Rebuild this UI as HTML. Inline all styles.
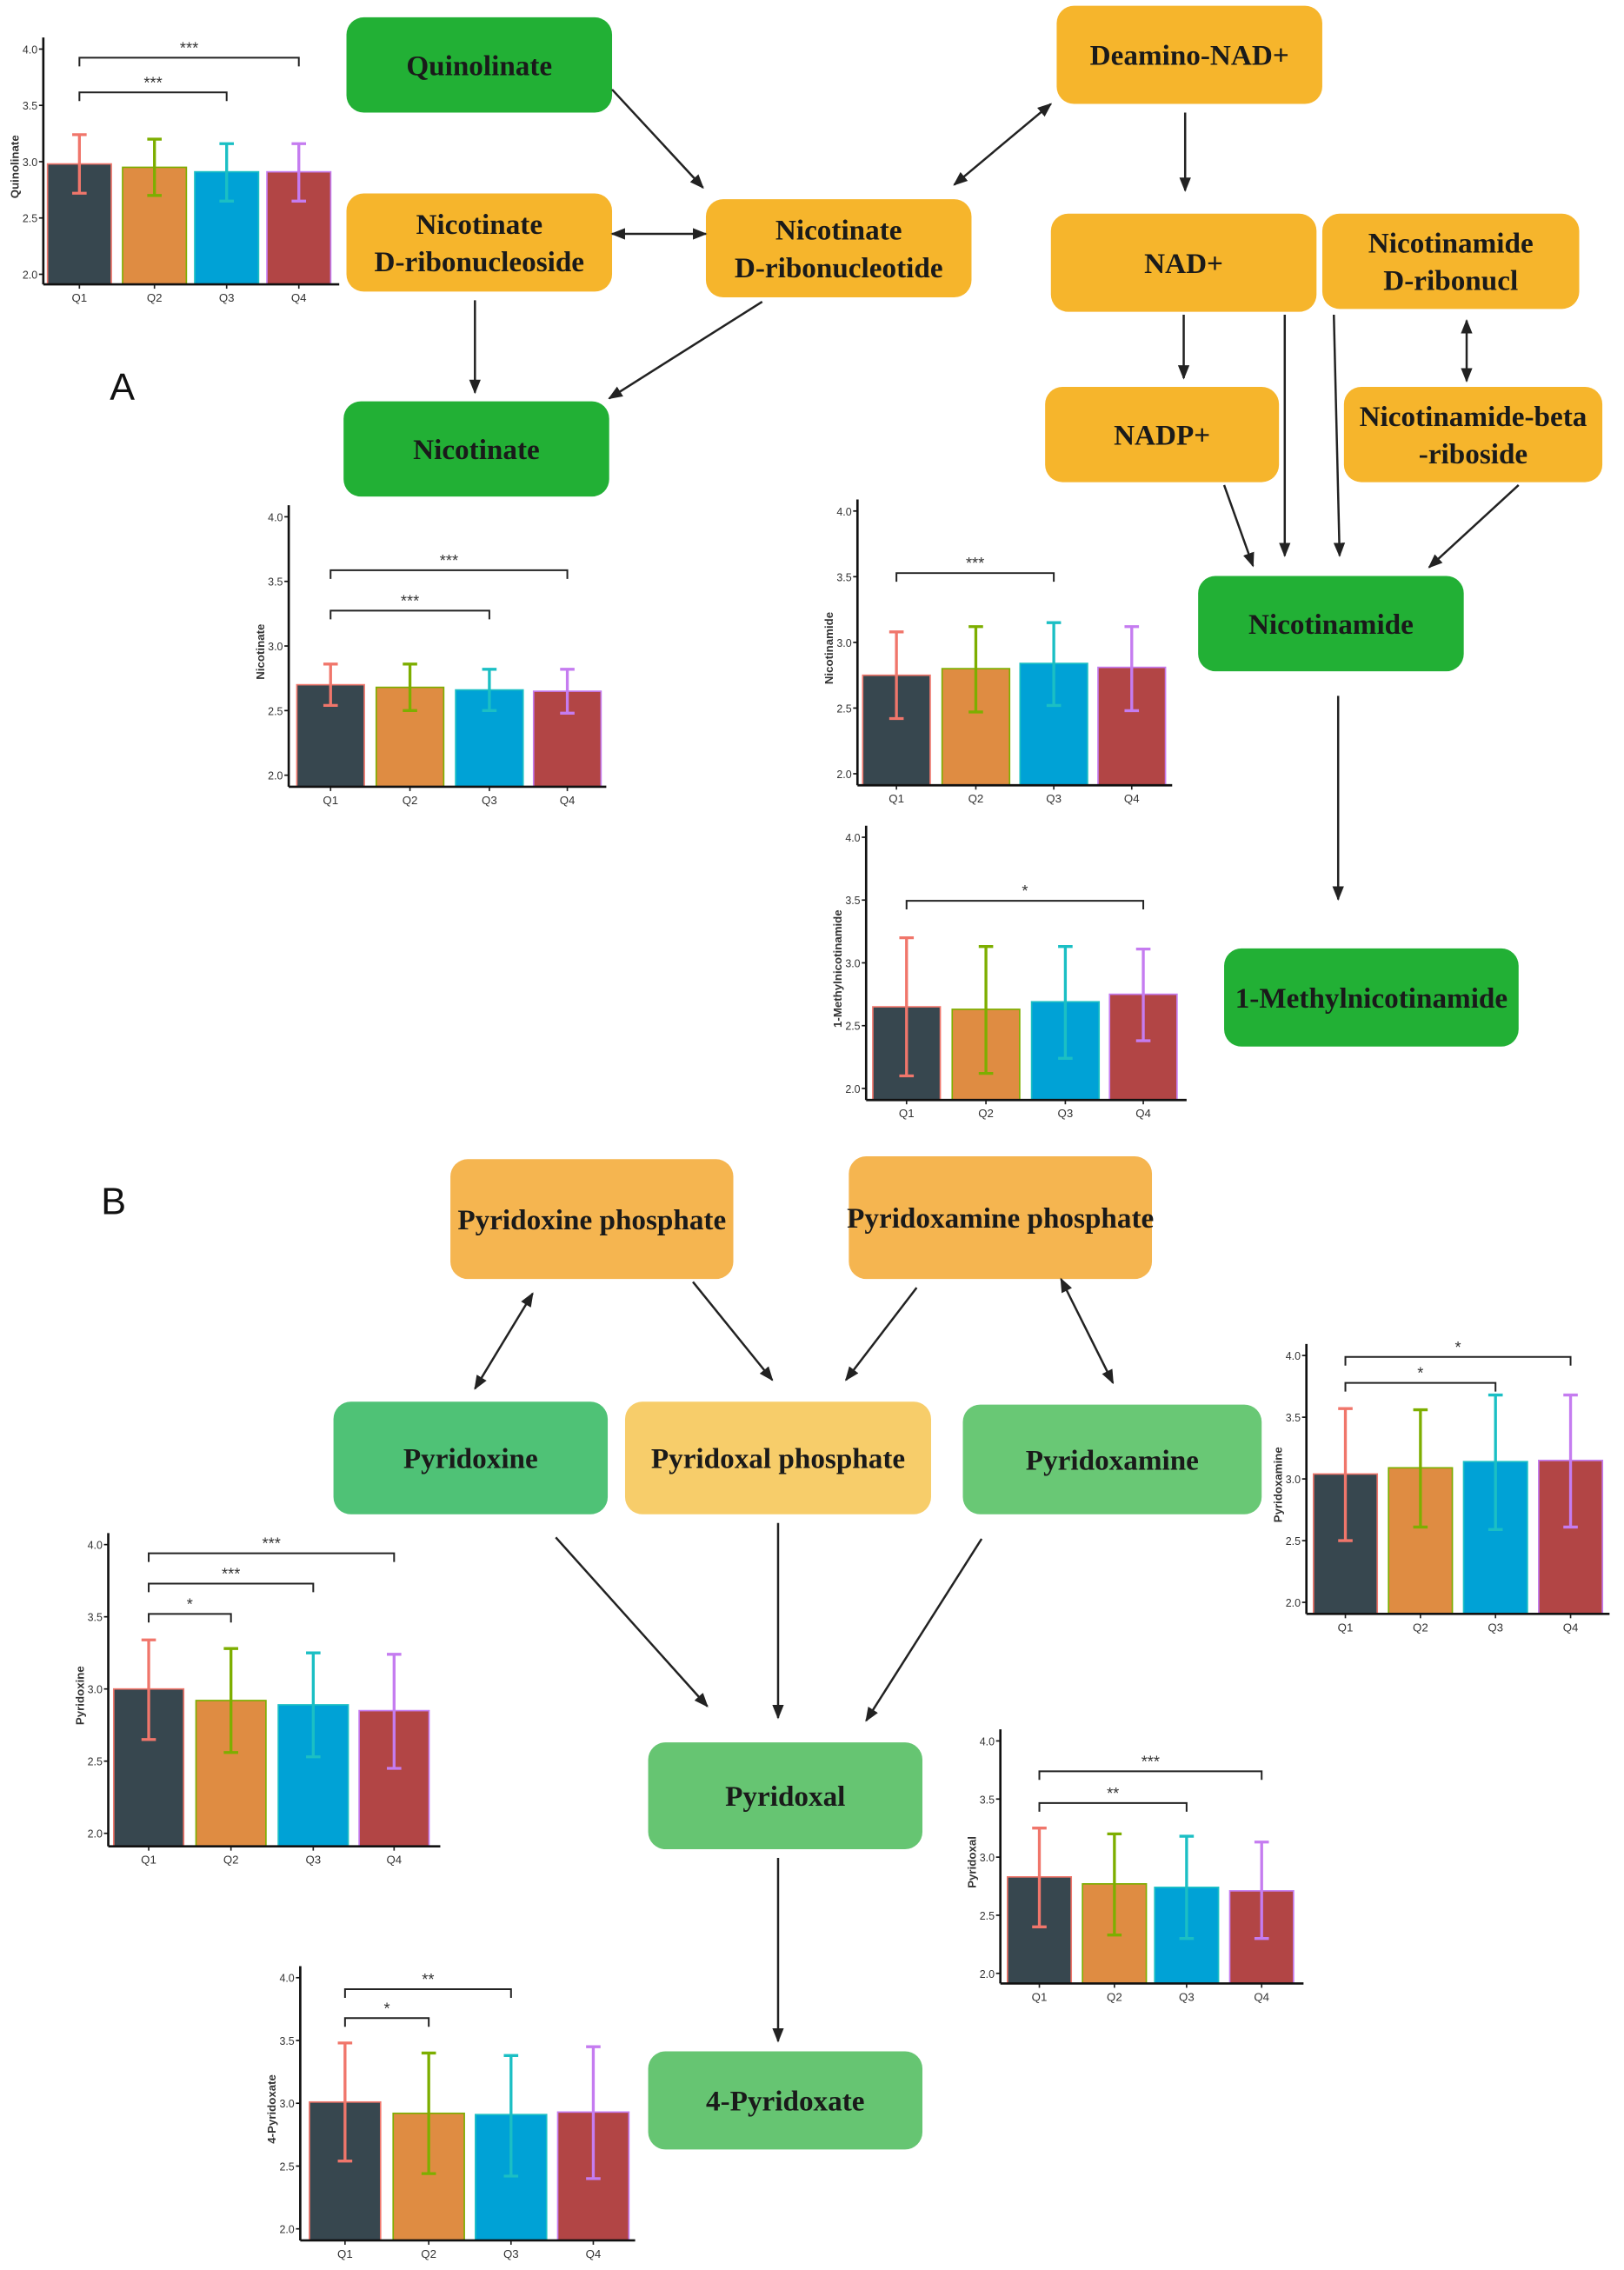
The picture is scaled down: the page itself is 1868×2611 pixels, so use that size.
<!DOCTYPE html>
<html><head><meta charset="utf-8"><style>
html,body{margin:0;padding:0;background:#fff;}
svg{display:block;}
.n{font-family:"Liberation Serif",serif;font-weight:bold;fill:#1a1a1a;text-anchor:middle;}
.ax{font-family:"Liberation Sans",sans-serif;fill:#333;}
</style></head><body>
<svg id="s" xmlns="http://www.w3.org/2000/svg" width="1868" height="2611" viewBox="0 0 1125 1572.5">
<defs><marker id="ah" markerWidth="10" markerHeight="10" refX="9" refY="5" orient="auto-start-reverse" markerUnits="userSpaceOnUse"><path d="M0,1 L10,5 L0,9 Z" fill="#222"/></marker></defs>
<rect width="1125" height="1573" fill="#fff"/>
<text x="76" y="277" font-family="Liberation Sans,sans-serif" font-size="26" fill="#111">A</text>
<text x="70" y="841" font-family="Liberation Sans,sans-serif" font-size="26" fill="#111">B</text>
</svg>
<script>
var S=document.getElementById('s'),NS='http://www.w3.org/2000/svg';
function el(t,a,txt){var e=document.createElementNS(NS,t);for(var k in a)e.setAttribute(k,a[k]);if(txt!=null)e.textContent=txt;S.appendChild(e);return e;}
var nodes=[
[240,12,184,66,'#22b035',['Quinolinate']],
[240,134,184,68,'#f6b52c',['Nicotinate','D-ribonucleoside']],
[489,138,184,68,'#f6b52c',['Nicotinate','D-ribonucleotide']],
[238,278,184,66,'#22b035',['Nicotinate']],
[732,4,184,68,'#f6b52c',['Deamino-NAD+']],
[728,148,184,68,'#f6b52c',['NAD+']],
[916,148,178,66,'#f6b52c',['Nicotinamide','D-ribonucl']],
[724,268,162,66,'#f6b52c',['NADP+']],
[931,268,179,66,'#f6b52c',['Nicotinamide-beta','-riboside']],
[830,399,184,66,'#22b035',['Nicotinamide']],
[848,657,204,68,'#22b035',['1-Methylnicotinamide']],
[312,803,196,83,'#f5b550',['Pyridoxine phosphate']],
[588,801,210,85,'#f5b550',['Pyridoxamine phosphate']],
[231,971,190,78,'#4fc276',['Pyridoxine']],
[433,971,212,78,'#f7cd6a',['Pyridoxal phosphate']],
[667,973,207,76,'#69c875',['Pyridoxamine']],
[449,1207,190,74,'#66c572',['Pyridoxal']],
[449,1421,190,68,'#66c572',['4-Pyridoxate']]];
nodes.forEach(function(n){
 el('rect',{x:n[0],y:n[1],width:n[2],height:n[3],rx:12,fill:n[4]});
 var L=n[5],cx=n[0]+n[2]/2,cy=n[1]+n[3]/2;
 L.forEach(function(t,i){el('text',{x:cx,y:cy+7+(i-(L.length-1)/2)*26,'class':'n','font-size':20},t);});
});
var arrows=[
[424,62,487,130,0],[489,162,424,162,1],[528,209,422,276,0],[329,208,329,272,0],
[661,128,728,72,1],[821,78,821,132,0],[820,218,820,262,0],[890,218,890,385,0],
[924,218,928,385,0],[1016,222,1016,264,1],[848,336,868,392,0],[1052,336,990,393,0],
[927,482,927,623,0],
[369,896,329,962,1],[480,888,535,956,0],[635,892,586,956,0],[735,886,771,958,1],
[385,1065,490,1182,0],[539,1055,539,1190,0],[680,1066,600,1192,0],[539,1287,539,1414,0]];
arrows.forEach(function(a){var o={x1:a[0],y1:a[1],x2:a[2],y2:a[3],stroke:'#222','stroke-width':1.5,'marker-end':'url(#ah)'};if(a[4])o['marker-start']='url(#ah)';el('line',o);});
var cols=['#37474f','#df8c42','#00a2d6','#b24545'],ecol=['#f0766b','#7dae00','#1bbfc4','#c57cf0'];
var charts=[
['Quinolinate',30,34,190,197,[55,107,157,207],235,[[2.98,2.72,3.24],[2.95,2.70,3.20],[2.91,2.65,3.16],[2.91,2.65,3.16]],[[0,3,40,'***'],[0,2,64,'***']]],
['Nicotinate',200,358,537,545,[229,284,339,393],420,[[2.70,2.54,2.86],[2.68,2.50,2.86],[2.66,2.50,2.82],[2.65,2.48,2.82]],[[0,3,395,'***'],[0,2,423,'***']]],
['Nicotinamide',594,354,536,544,[621,676,730,784],812,[[2.75,2.42,3.08],[2.80,2.47,3.12],[2.84,2.52,3.15],[2.81,2.48,3.12]],[[0,2,397,'***']]],
['1-Methylnicotinamide',600,580,754,762,[628,683,738,792],822,[[2.65,2.10,3.20],[2.63,2.12,3.13],[2.69,2.24,3.13],[2.75,2.38,3.11]],[[0,3,624,'*']]],
['Pyridoxamine',905,939,1110,1118,[932,984,1036,1088],1115,[[3.04,2.50,3.57],[3.09,2.61,3.56],[3.14,2.59,3.68],[3.15,2.61,3.68]],[[0,3,940,'*'],[0,2,958,'*']]],
['Pyridoxine',75,1070,1270,1279,[103,160,217,273],305,[[3.00,2.65,3.34],[2.92,2.56,3.28],[2.89,2.53,3.25],[2.85,2.45,3.24]],[[0,3,1076,'***'],[0,2,1097,'***'],[0,1,1118,'*']]],
['Pyridoxal',693,1206,1367,1374,[720,772,822,874],903,[[2.83,2.40,3.25],[2.77,2.33,3.20],[2.74,2.30,3.18],[2.71,2.30,3.13]],[[0,3,1227,'***'],[0,2,1249,'**']]],
['4-Pyridoxate',208,1370,1544,1552,[239,297,354,411],440,[[3.01,2.54,3.48],[2.92,2.44,3.40],[2.91,2.42,3.38],[2.93,2.40,3.45]],[[0,2,1378,'**'],[0,1,1398,'*']]]];
charts.forEach(function(c){
 var ax=c[1],y4=c[2],y2=c[3],bot=c[4],cx=c[5],right=c[6];
 function Y(v){return y2-(v-2)/2*(y2-y4);}
 var bw=(cx[1]-cx[0])*0.85;
 c[7].forEach(function(d,i){
  el('rect',{x:cx[i]-bw/2,y:Y(d[0]),width:bw,height:bot-Y(d[0]),fill:cols[i],stroke:ecol[i],'stroke-width':1});
  el('line',{x1:cx[i],y1:Y(d[1]),x2:cx[i],y2:Y(d[2]),stroke:ecol[i],'stroke-width':2});
  el('line',{x1:cx[i]-5,y1:Y(d[1]),x2:cx[i]+5,y2:Y(d[1]),stroke:ecol[i],'stroke-width':2});
  el('line',{x1:cx[i]-5,y1:Y(d[2]),x2:cx[i]+5,y2:Y(d[2]),stroke:ecol[i],'stroke-width':2});
  el('line',{x1:cx[i],y1:bot,x2:cx[i],y2:bot+3,stroke:'#222','stroke-width':1});
  el('text',{x:cx[i],y:bot+12,'class':'ax','font-size':8,'text-anchor':'middle'},'Q'+(i+1));
 });
 el('line',{x1:ax,y1:y4-8,x2:ax,y2:bot,stroke:'#111','stroke-width':1.6});
 el('line',{x1:ax,y1:bot,x2:right,y2:bot,stroke:'#111','stroke-width':1.6});
 ['2.0','2.5','3.0','3.5','4.0'].forEach(function(t,i){var y=Y(2+i*0.5);
  el('line',{x1:ax-3,y1:y,x2:ax,y2:y,stroke:'#111','stroke-width':1});
  el('text',{x:ax-4,y:y+3,'class':'ax','font-size':7.5,'text-anchor':'end'},t);});
 var my=(y4+bot)/2;
 el('text',{x:ax-17,y:my,'class':'ax','font-size':8,'font-weight':'bold','text-anchor':'middle',transform:'rotate(-90 '+(ax-17)+' '+my+')'},c[0]);
 c[8].forEach(function(b){var x1=cx[b[0]],x2=cx[b[1]],y=b[2];
  el('path',{d:'M'+x1+','+(y+6)+' V'+y+' H'+x2+' V'+(y+6),fill:'none',stroke:'#222','stroke-width':1.2});
  el('text',{x:(x1+x2)/2,y:y-3,'class':'ax','font-size':11,'text-anchor':'middle',fill:'#222'},b[3]);});
});
</script>
</body></html>
